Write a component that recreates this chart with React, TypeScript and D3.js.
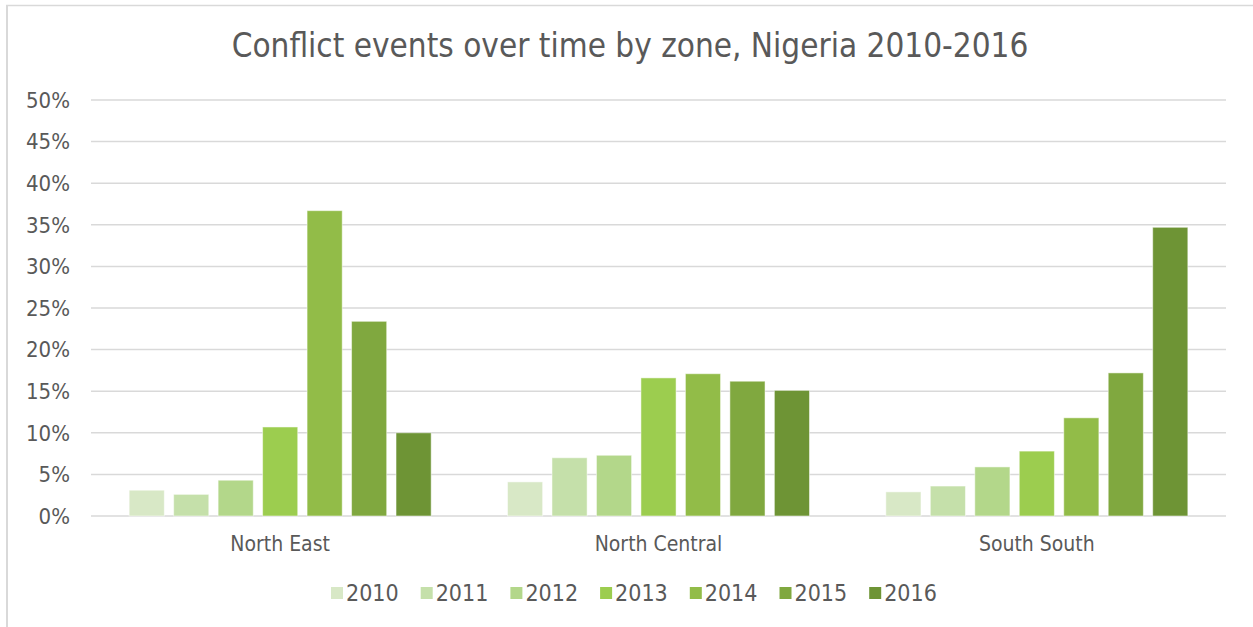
import React, { useEffect, useRef } from 'react';
import * as d3 from 'd3';

const zones = ['North East', 'North Central', 'South South'];
const years = ['2010', '2011', '2012', '2013', '2014', '2015', '2016'];
// share of conflict events per zone, by year (%)
const northEast = [3.1, 2.6, 4.3, 10.7, 36.7, 23.4, 10.0];
const northCentral = [4.1, 7.0, 7.3, 16.6, 17.1, 16.2, 15.1];
const southSouth = [2.9, 3.6, 5.9, 7.8, 11.8, 17.2, 34.7];
const yTicks = [0, 5, 10, 15, 20, 25, 30, 35, 40, 45, 50];
const colors = ['#d8e8c6', '#c5e0aa', '#b3d78a', '#9ccd4f', '#92bc48', '#80a83f', '#6e9435'];

const FONT = '"Liberation Sans Narrow", "DejaVu Sans Condensed", "Noto Sans", sans-serif';

const App = () => {
  const svgRef = useRef<SVGSVGElement>(null);

  useEffect(() => {
    const svg = d3.select(svgRef.current);
    svg.selectAll('*').remove();

    const width = 1253;
    const height = 627;
    const margin = { top: 100, right: 27, bottom: 111, left: 91 };
    const innerW = width - margin.left - margin.right;
    const innerH = height - margin.top - margin.bottom;

    const series = [northEast, northCentral, southSouth];

    // chart frame
    svg.append('line')
      .attr('x1', 6).attr('x2', width).attr('y1', 5.5).attr('y2', 5.5)
      .attr('stroke', '#d9d9d9').attr('stroke-width', 1.5);
    svg.append('line')
      .attr('x1', 7).attr('x2', 7).attr('y1', 5).attr('y2', height)
      .attr('stroke', '#d9d9d9').attr('stroke-width', 2);

    svg.append('text')
      .attr('x', 630)
      .attr('y', 57)
      .attr('text-anchor', 'middle')
      .attr('fill', '#595959')
      .style('font-family', FONT)
      .style('font-size', '33px')
      .text('Conflict events over time by zone, Nigeria 2010-2016');

    const g = svg.append('g').attr('transform', `translate(${margin.left},${margin.top})`);

    const x0 = d3.scaleBand().domain(zones).range([0, innerW]);
    const y = d3.scaleLinear().domain([0, 50]).range([innerH, 0]);
    const x1 = d3.scaleBand().domain(years)
      .range([(x0.bandwidth() - 302) / 2, (x0.bandwidth() + 302) / 2])
      .paddingInner(0.21);

    // gridlines
    g.append('g')
      .selectAll('line')
      .data(yTicks)
      .join('line')
      .attr('x1', 0).attr('x2', innerW)
      .attr('y1', (d) => y(d)).attr('y2', (d) => y(d))
      .attr('stroke', '#d9d9d9').attr('stroke-width', 1.5);

    // y labels
    g.append('g')
      .selectAll('text')
      .data(yTicks)
      .join('text')
      .attr('x', -21)
      .attr('y', (d) => y(d))
      .attr('dy', '0.35em')
      .attr('text-anchor', 'end')
      .attr('fill', '#595959')
      .style('font-family', FONT)
      .style('font-size', '22px')
      .text((d) => `${d}%`);

    // bars
    const groups = g.selectAll('g.zone')
      .data(zones)
      .join('g')
      .attr('class', 'zone')
      .attr('transform', (d) => `translate(${x0(d)},0)`);

    groups.selectAll('rect')
      .data((d, i) => series[i].map((v, j) => ({ year: years[j], value: v, idx: j })))
      .join('rect')
      .attr('x', (d) => x1(d.year)!)
      .attr('y', (d) => y(d.value))
      .attr('width', x1.bandwidth())
      .attr('height', (d) => innerH - y(d.value))
      .attr('fill', (d) => colors[d.idx])
      .attr('stroke', 'rgba(255,255,255,0.5)')
      .attr('stroke-width', 1);

    // category labels
    g.append('g')
      .selectAll('text')
      .data(zones)
      .join('text')
      .attr('x', (d) => x0(d)! + x0.bandwidth() / 2)
      .attr('y', innerH + 35)
      .attr('text-anchor', 'middle')
      .attr('fill', '#595959')
      .style('font-family', FONT)
      .style('font-size', '21px')
      .text((d) => d);

    // legend
    const itemW = 89.7;
    const legend = svg.append('g')
      .attr('transform', 'translate(331,593)');
    const items = legend.selectAll('g')
      .data(years)
      .join('g')
      .attr('transform', (d, i) => `translate(${i * itemW},0)`);
    items.append('rect')
      .attr('x', 0).attr('y', -6)
      .attr('width', 12).attr('height', 12)
      .attr('fill', (d, i) => colors[i]);
    items.append('text')
      .attr('x', 15)
      .attr('dy', '0.36em')
      .attr('fill', '#595959')
      .style('font-family', FONT)
      .style('font-size', '23px')
      .text((d) => d);
  }, []);

  return (
    <svg
      ref={svgRef}
      width={1253}
      height={627}
      style={{ position: 'absolute', left: 0, top: 0, display: 'block', background: '#fff' }}
    ></svg>
  );
};

export default App;
